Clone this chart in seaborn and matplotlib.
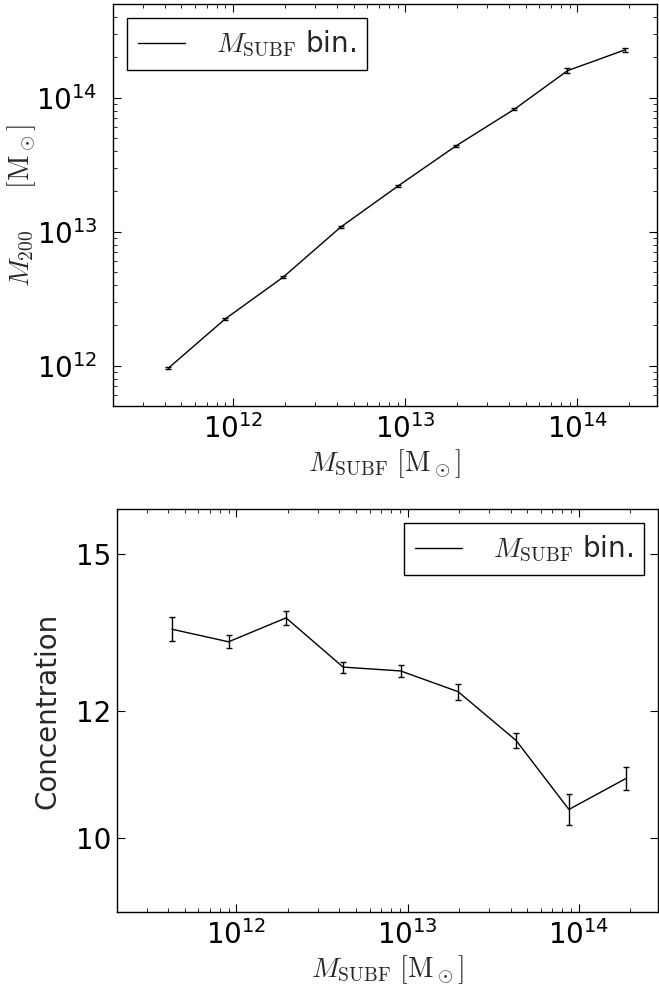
import numpy as np
import pandas as pd
import seaborn as sns
import matplotlib.pyplot as plt
from matplotlib.ticker import FixedLocator, NullLocator, ScalarFormatter

# Bin centres in SUBFIND mass [M_sun]
m_subf = [4.2e11, 9.0e11, 1.95e12, 4.2e12, 9.1e12, 1.97e13, 4.3e13, 8.75e13, 1.88e14]

# M200 per bin [M_sun] and its error
m200 = [9.6e11, 2.24e12, 4.58e12, 1.08e13, 2.20e13, 4.37e13, 8.2e13, 1.59e14, 2.27e14]
m200_err = [1.6e10, 3.5e10, 7e10, 1.8e11, 3.5e11, 7e11, 1.4e12, 7e12, 6e12]

# Concentration per bin and its error
conc = [13.48, 13.24, 13.70, 12.77, 12.70, 12.33, 11.50, 10.42, 10.89]
conc_err = [0.23, 0.12, 0.14, 0.10, 0.11, 0.14, 0.12, 0.23, 0.18]

conc_ticks = [10, 12, 15]

df = pd.DataFrame({'m_subf': m_subf, 'm200': m200, 'm200_err': m200_err,
                   'conc': conc, 'conc_err': conc_err})

sns.set_style('ticks')
plt.rcParams['font.family'] = ['DejaVu Sans']
plt.rcParams['mathtext.fontset'] = 'cm'
plt.rcParams['font.size'] = 20

fig = plt.figure(figsize=(6.59, 9.85), dpi=100)
ax1 = fig.add_axes([0.1715, 0.5878, 0.8255, 0.4081])
ax2 = fig.add_axes([0.1771, 0.0741, 0.8214, 0.4089])

legend_label = r'$M_{\rm SUBF}$ bin.'
xlabel = r'$M_{\rm SUBF}\ [\mathrm{M}_\odot]$'

for ax in (ax1, ax2):
    ax.set_xscale('log')
    ax.set_yscale('log')

# Top panel: M200 vs M_SUBF
sns.lineplot(data=df, x='m_subf', y='m200', ax=ax1, color='k', lw=1, label=legend_label)
ax1.errorbar(df['m_subf'], df['m200'], yerr=df['m200_err'], fmt='none',
             ecolor='k', elinewidth=1, capsize=2.5, capthick=1)
ax1.set_xlim(2e11, 2.9e14)
ax1.set_ylim(5e11, 5e14)
ax1.set_xlabel(xlabel, fontsize=20, labelpad=2)
ax1.set_ylabel(r'$M_{200}\quad\ \ [\mathrm{M}_\odot]$', fontsize=20)
ax1.yaxis.set_label_coords(-0.138, 0.5)
ax1.legend(loc='upper left', fancybox=False, edgecolor='k', framealpha=1,
           handlelength=1.7, handletextpad=1.1, fontsize=20)
ax1.get_legend().get_frame().set_linewidth(1)

# Bottom panel: concentration vs M_SUBF
sns.lineplot(data=df, x='m_subf', y='conc', ax=ax2, color='k', lw=1, label=legend_label)
ax2.errorbar(df['m_subf'], df['conc'], yerr=df['conc_err'], fmt='none',
             ecolor='k', elinewidth=1, capsize=2.5, capthick=1)
ax2.set_xlim(2e11, 2.9e14)
ax2.set_ylim(9, 16)
ax2.yaxis.set_major_locator(FixedLocator(conc_ticks))
ax2.yaxis.set_major_formatter(ScalarFormatter())
ax2.yaxis.set_minor_locator(NullLocator())
ax2.set_xlabel(xlabel, fontsize=20, labelpad=2)
ax2.set_ylabel('Concentration', fontsize=20, labelpad=10)
ax2.legend(loc='upper right', fancybox=False, edgecolor='k', framealpha=1,
           handlelength=1.7, handletextpad=1.1, fontsize=20)
ax2.get_legend().get_frame().set_linewidth(1)

for ax in (ax1, ax2):
    ax.tick_params(which='both', direction='in', top=True, right=True, colors='k')
    ax.tick_params(which='major', length=6, width=0.8, labelsize=20)
    ax.tick_params(which='minor', length=3, width=0.6)
    ax.tick_params(axis='x', which='major', pad=6)
    for s in ax.spines.values():
        s.set_color('k')
        s.set_linewidth(1)

ax1.tick_params(axis='y', which='major', pad=11)
ax2.tick_params(axis='y', which='major', pad=4)

fig.savefig('out.png', dpi=100)
